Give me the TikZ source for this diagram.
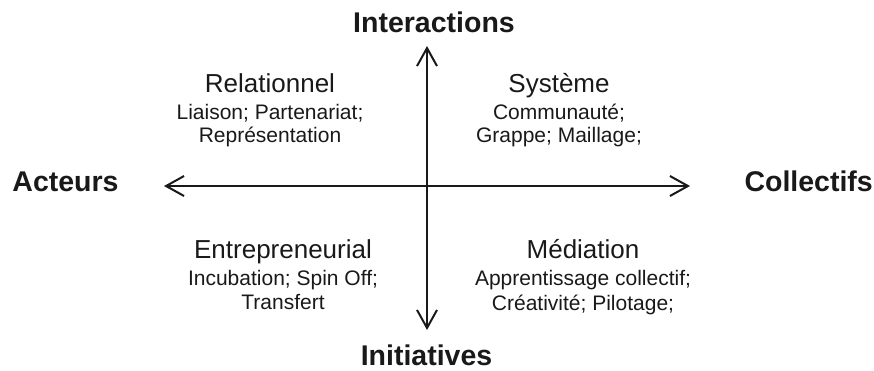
\documentclass[tikz,border=0pt]{standalone}
\usepackage{fontspec}
\setmainfont{Liberation Sans}
\usetikzlibrary{arrows.meta}
\begin{document}
\begin{tikzpicture}[x=1pt,y=-1pt,
  barb/.tip={Straight Barb[length=18pt,width=20pt]},
  axis/.style={line width=2pt, color=black!90, barb-barb},
  pole/.style={font=\fontsize{28.5}{30}\selectfont\bfseries, anchor=base, inner sep=0pt, text=black!90},
  qtitle/.style={font=\fontsize{26}{28}\selectfont, anchor=base, inner sep=0pt, text=black!90},
  qbody/.style={font=\fontsize{21}{24}\selectfont, anchor=base, inner sep=0pt, text=black!90}]
\useasboundingbox (0,0) rectangle (874,370);
\coordinate (N) at (427,46);
\coordinate (S) at (427,330);
\coordinate (W) at (164,186);
\coordinate (E) at (690,186);
\draw[axis] (W) -- (E);
\draw[axis] (N) -- (S);
\node[pole] (inter) at (434,32) {Interactions};
\node[pole] (initi) at (426.5,365) {Initiatives};
\node[pole] (act) at (65.5,191.5) {Acteurs};
\node[pole, anchor=base east] (coll) at (873,191) {Collectifs};
% upper left
\node[qtitle] (rel) at (270,92.5) {Relationnel};
\node[qbody] (rel1) at (270,119) {Liaison; Partenariat;};
\node[qbody] (rel2) at (270,142) {Représentation};
% upper right
\node[qtitle] (sys) at (559,92) {Système};
\node[qbody] (sys1) at (559,119) {Communauté;};
\node[qbody] (sys2) at (559,142) {Grappe; Maillage;};
% lower left
\node[qtitle] (ent) at (283,258) {Entrepreneurial};
\node[qbody] (ent1) at (283,285) {Incubation; Spin Off;};
\node[qbody] (ent2) at (283,309) {Transfert};
% lower right
\node[qtitle] (med) at (583,258) {Médiation};
\node[qbody] (med1) at (583,285) {Apprentissage collectif;};
\node[qbody] (med2) at (583,310) {Créativité; Pilotage;};
\end{tikzpicture}
\end{document}
